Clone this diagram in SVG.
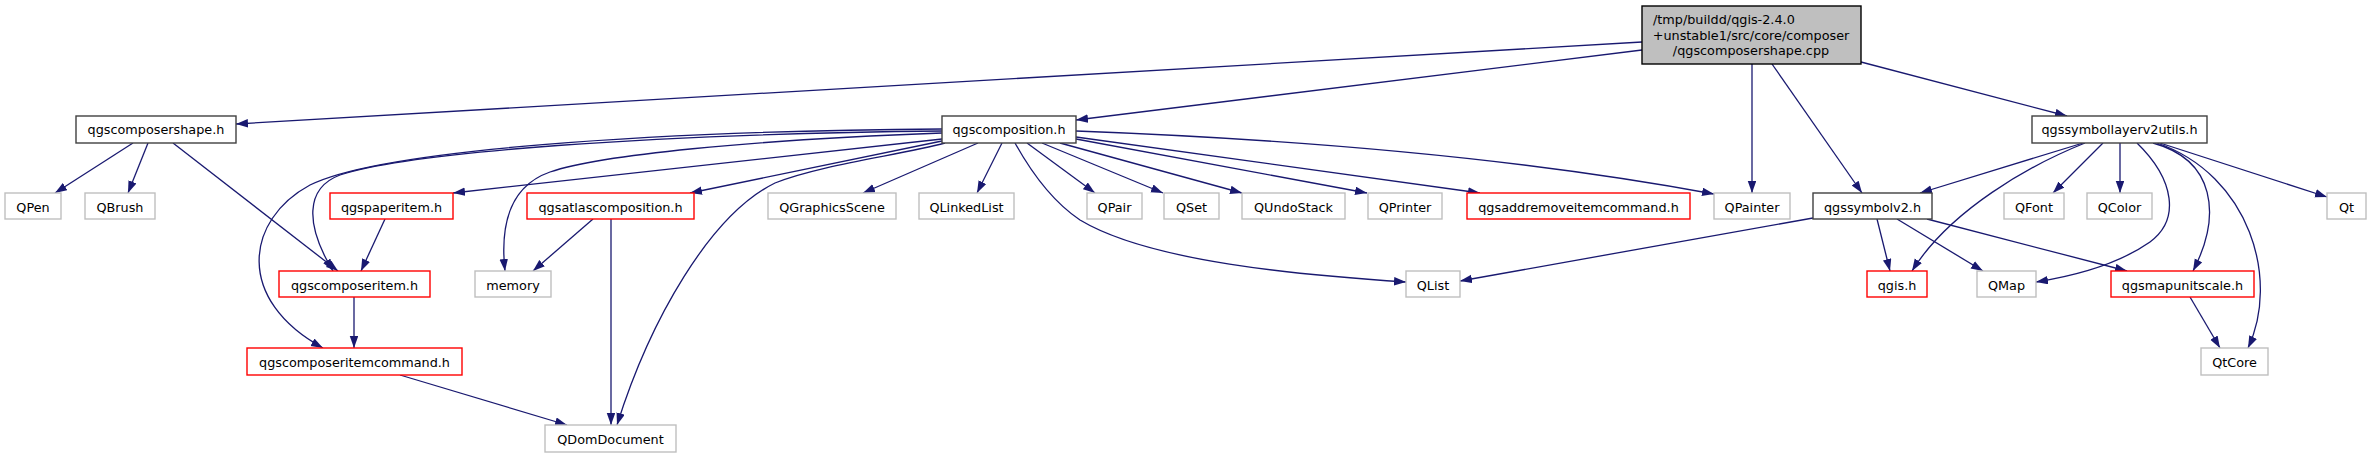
<svg xmlns="http://www.w3.org/2000/svg" width="2371" height="459" viewBox="0 0 2371 459">
<defs>
<style>
text{font-family:"DejaVu Sans","Liberation Sans",sans-serif;font-size:12.8px;fill:#000;text-anchor:middle}
.m{fill:#fff;stroke:#404040;stroke-width:1.4}
.r{fill:#fff;stroke:#ff0000;stroke-width:1.4}
.g{fill:#fff;stroke:#bfbfbf;stroke-width:1.4}
.root{fill:#bfbfbf;stroke:#000;stroke-width:1.4}
.e{fill:none;stroke:#191970;stroke-width:1.3;marker-end:url(#a)}
</style>
<marker id="a" markerUnits="userSpaceOnUse" markerWidth="13" markerHeight="9" refX="12" refY="4.25" orient="auto"><path d="M0,0 L12,4.25 L0,8.5 z" fill="#191970"/></marker>
</defs>
<rect width="2371" height="459" fill="#fff"/>
<g id="connectors">
<path class="e" d="M1642,42 L236,124"/>
<path class="e" d="M1642,50 L1076,120"/>
<path class="e" d="M1752,64 L1752,193"/>
<path class="e" d="M1772,64 L1862,193"/>
<path class="e" d="M1861,62 L2067,116"/>
<path class="e" d="M133,143 L55,193"/>
<path class="e" d="M148,143 L128,193"/>
<path class="e" d="M173,143 L338,271"/>
<path class="e" d="M942,129 C650,131 380,150 310,185 C245,220 235,300 323,348"/>
<path class="e" d="M942,131 C650,134 410,152 340,175 C305,188 305,225 333,271"/>
<path class="e" d="M942,139 L453,193"/>
<path class="e" d="M942,133 C750,140 600,155 550,172 C510,186 500,225 505,271"/>
<path class="e" d="M942,141 L690,193"/>
<path class="e" d="M945,143 C900,155 820,165 775,183 C710,215 650,320 617,425"/>
<path class="e" d="M978,143 L863,193"/>
<path class="e" d="M1002,143 L977,193"/>
<path class="e" d="M1015,143 C1030,170 1050,200 1080,220 C1150,262 1300,275 1406,282"/>
<path class="e" d="M1027,143 L1095,193"/>
<path class="e" d="M1042,143 L1163,193"/>
<path class="e" d="M1060,143 L1242,193"/>
<path class="e" d="M1076,139 L1367,193"/>
<path class="e" d="M1076,137 L1480,193"/>
<path class="e" d="M1076,131 Q1450,145 1714,194"/>
<path class="e" d="M385,219 L361,271"/>
<path class="e" d="M354,297 L354,348"/>
<path class="e" d="M400,375 L567,425"/>
<path class="e" d="M593,219 L533,271"/>
<path class="e" d="M611,219 L611,425"/>
<path class="e" d="M1813,218 L1460,281"/>
<path class="e" d="M1877,219 L1890,271"/>
<path class="e" d="M1897,219 L1983,271"/>
<path class="e" d="M1927,219 L2127,271"/>
<path class="e" d="M2083,143 L1920,193"/>
<path class="e" d="M2085,143 C2030,165 1950,210 1912,271"/>
<path class="e" d="M2103,143 L2053,193"/>
<path class="e" d="M2120,143 L2120,193"/>
<path class="e" d="M2137,143 C2175,180 2180,220 2150,242 C2120,263 2080,275 2036,282"/>
<path class="e" d="M2153,143 C2215,160 2222,215 2193,271"/>
<path class="e" d="M2157,143 C2250,175 2280,280 2248,348"/>
<path class="e" d="M2160,143 L2327,197"/>
<path class="e" d="M2190,297 L2220,348"/>
</g>
<g id="root"><rect class="root" x="1642" y="6" width="219" height="58"/><text x="1653" y="24" style="text-anchor:start">/tmp/buildd/qgis-2.4.0</text><text x="1751" y="39.5">+unstable1/src/core/composer</text><text x="1751" y="55">/qgscomposershape.cpp</text></g>
<g id="qgscomposershape_h"><rect class="m" x="76" y="116" width="160" height="27"/><text x="156" y="134">qgscomposershape.h</text></g>
<g id="qgscomposition_h"><rect class="m" x="942" y="116" width="134" height="27"/><text x="1009" y="134">qgscomposition.h</text></g>
<g id="qgssymbollayerv2utils_h"><rect class="m" x="2032" y="116" width="175" height="27"/><text x="2119.5" y="134">qgssymbollayerv2utils.h</text></g>
<g id="QPen"><rect class="g" x="5" y="193" width="56" height="26"/><text x="33" y="211.5">QPen</text></g>
<g id="QBrush"><rect class="g" x="85" y="193" width="70" height="26"/><text x="120" y="211.5">QBrush</text></g>
<g id="qgspaperitem_h"><rect class="r" x="330" y="193" width="123" height="26"/><text x="391.5" y="211.5">qgspaperitem.h</text></g>
<g id="qgsatlascomposition_h"><rect class="r" x="527" y="193" width="167" height="26"/><text x="610.5" y="211.5">qgsatlascomposition.h</text></g>
<g id="QGraphicsScene"><rect class="g" x="768" y="193" width="128" height="26"/><text x="832" y="211.5">QGraphicsScene</text></g>
<g id="QLinkedList"><rect class="g" x="919" y="193" width="95" height="26"/><text x="966.5" y="211.5">QLinkedList</text></g>
<g id="QPair"><rect class="g" x="1087" y="193" width="55" height="26"/><text x="1114.5" y="211.5">QPair</text></g>
<g id="QSet"><rect class="g" x="1164" y="193" width="55" height="26"/><text x="1191.5" y="211.5">QSet</text></g>
<g id="QUndoStack"><rect class="g" x="1242" y="193" width="103" height="26"/><text x="1293.5" y="211.5">QUndoStack</text></g>
<g id="QPrinter"><rect class="g" x="1368" y="193" width="74" height="26"/><text x="1405" y="211.5">QPrinter</text></g>
<g id="qgsaddremoveitemcommand_h"><rect class="r" x="1467" y="193" width="223" height="26"/><text x="1578.5" y="211.5">qgsaddremoveitemcommand.h</text></g>
<g id="QPainter"><rect class="g" x="1714" y="193" width="76" height="26"/><text x="1752" y="211.5">QPainter</text></g>
<g id="qgssymbolv2_h"><rect class="m" x="1813" y="193" width="119" height="26"/><text x="1872.5" y="211.5">qgssymbolv2.h</text></g>
<g id="QFont"><rect class="g" x="2004" y="193" width="60" height="26"/><text x="2034" y="211.5">QFont</text></g>
<g id="QColor"><rect class="g" x="2087" y="193" width="65" height="26"/><text x="2119.5" y="211.5">QColor</text></g>
<g id="Qt"><rect class="g" x="2327" y="193" width="39" height="26"/><text x="2346.5" y="211.5">Qt</text></g>
<g id="qgscomposeritem_h"><rect class="r" x="279" y="271" width="151" height="26"/><text x="354.5" y="289.5">qgscomposeritem.h</text></g>
<g id="memory"><rect class="g" x="475" y="271" width="76" height="26"/><text x="513" y="289.5">memory</text></g>
<g id="QList"><rect class="g" x="1406" y="271" width="54" height="26"/><text x="1433" y="289.5">QList</text></g>
<g id="qgis_h"><rect class="r" x="1867" y="271" width="60" height="26"/><text x="1897" y="289.5">qgis.h</text></g>
<g id="QMap"><rect class="g" x="1977" y="271" width="59" height="26"/><text x="2006.5" y="289.5">QMap</text></g>
<g id="qgsmapunitscale_h"><rect class="r" x="2111" y="271" width="143" height="26"/><text x="2182.5" y="289.5">qgsmapunitscale.h</text></g>
<g id="qgscomposeritemcommand_h"><rect class="r" x="247" y="348" width="215" height="27"/><text x="354.5" y="366.5">qgscomposeritemcommand.h</text></g>
<g id="QtCore"><rect class="g" x="2201" y="348" width="67" height="27"/><text x="2234.5" y="366.5">QtCore</text></g>
<g id="QDomDocument"><rect class="g" x="545" y="425" width="131" height="27"/><text x="610.5" y="443.5">QDomDocument</text></g>
</svg>
